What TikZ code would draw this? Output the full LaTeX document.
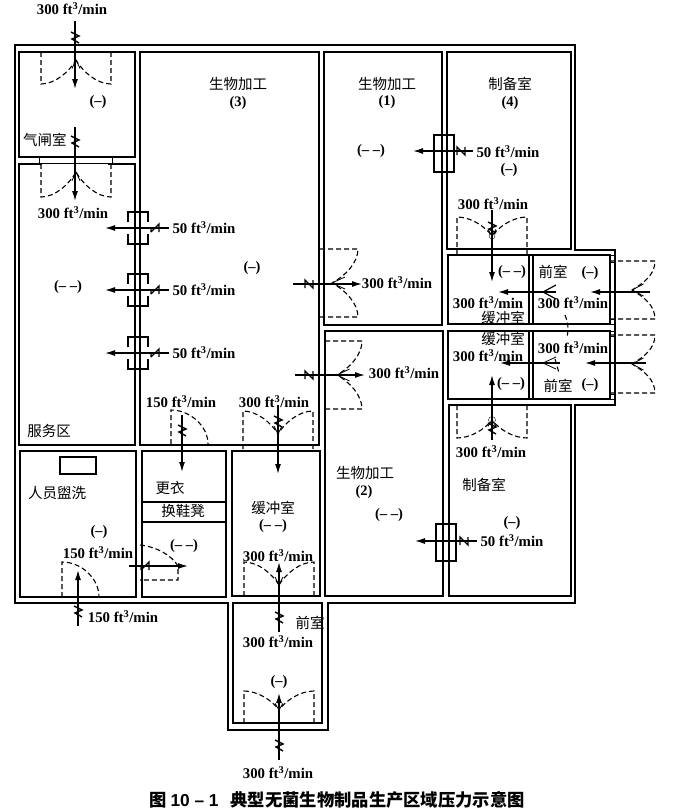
\documentclass[tikz,border=0pt]{standalone}
\usepackage{fontspec}
\setmainfont{Liberation Serif}
\newfontfamily\cjk{Noto Sans CJK SC}
\newfontfamily\titlelatin{Liberation Sans}
\usetikzlibrary{arrows.meta}
\newcommand{\flowrate}[1]{#1 ft\textsuperscript{3}/min}
% double door, vertical axis: axis x, wall y, leaf end y, tip y
\newcommand{\doorv}[4]{
	\draw[door] ({#1-35},#2) -- ({#1-35},#3) .. controls ({#1-21},#3) and ({#1-7},{(#3+#4)/2}) .. (#1,#4);
	\draw[door] ({#1+35},#2) -- ({#1+35},#3) .. controls ({#1+21},#3) and ({#1+7},{(#3+#4)/2}) .. (#1,#4);
	\draw[line width=0.8pt] ({#1-4},{#4+(#3-#4)*0.35}) -- (#1,#4) -- ({#1+4},{#4+(#3-#4)*0.35});
}
% double door, horizontal axis: axis y, half width, wall x, leaf end x, tip x
\newcommand{\doorh}[5]{
	\draw[door] (#3,{#1-#2}) -- (#4,{#1-#2}) .. controls (#4,{#1-#2+14}) and ({(#4+#5)/2},{#1-7}) .. (#5,#1);
	\draw[door] (#3,{#1+#2}) -- (#4,{#1+#2}) .. controls (#4,{#1+#2-14}) and ({(#4+#5)/2},{#1+7}) .. (#5,#1);
	\draw[line width=0.8pt] ({#5+(#4-#5)*0.5},{#1-6}) -- (#5,#1) -- ({#5+(#4-#5)*0.5},{#1+6});
}
\newcommand{\zmark}[2]{\draw[zig] (#1,#2) ++(-4,-5) -- ++(8,4) -- ++(-7,3) -- ++(7,4);}
\newcommand{\nmark}[2]{\draw[zig] (#1,#2) ++(-4,4) -- ++(0,-8) -- ++(8,8) -- ++(0,-8);}
\newcommand{\nmarkb}[2]{\draw[zig] (#1,#2) ++(-4,4) -- ++(0,-4) -- ++(8,0) ++(-8,4) -- ++(8,-8) -- ++(0,8);}
\newcommand{\passbox}[2]{
	\draw[line width=1.5pt] ({#1-10},{#2-6}) -- ({#1-10},{#2-16}) -- ({#1+10},{#2-16}) -- ({#1+10},{#2-6});
	\draw[line width=1.5pt] ({#1-10},{#2+6}) -- ({#1-10},{#2+16}) -- ({#1+10},{#2+16}) -- ({#1+10},{#2+6});
}
\begin{document}
\begin{tikzpicture}[
		x=1pt,y=-1pt,
		wall/.style={line width=2pt},
		door/.style={line width=1.1pt,dash pattern=on 5pt off 3pt},
		flow/.style={line width=1.3pt,-{Latex[length=10pt,width=6pt]}},
		zig/.style={line width=1.4pt},
		rate/.style={inner sep=0pt,font=\bfseries\fontsize{14.8}{16}\selectfont},
		room/.style={inner sep=0pt,font=\cjk\fontsize{14.5}{16}\selectfont},
		sign/.style={inner sep=0pt,font=\bfseries\fontsize{14.5}{16}\selectfont}
		]
		\useasboundingbox (0,0) rectangle (674,809);
		%Draw outer wall
		\draw[wall] (15,45) -- (575,45) -- (575,250) -- (615,250) -- (615,405) -- (575,405) -- (575,603)
		-- (328,603) -- (328,730) -- (228,730) -- (228,603) -- (15,603) -- cycle;
		%Draw rooms
		\draw[wall] (19,52) rectangle (135,157);
		\draw[wall] (19,164) rectangle (135,445);
		\draw[wall] (140,52) rectangle (319,445);
		\draw[wall] (324,52) rectangle (442,325);
		\draw[wall] (325,331) rectangle (443,596);
		\draw[wall] (447,52) rectangle (571,249);
		\draw[wall] (448,255) rectangle (610,324);
		\draw[wall] (448,331) rectangle (610,399);
		\draw[wall] (449,405) rectangle (571,596);
		\draw[wall] (20,451) rectangle (136,597);
		\draw[wall] (142,451) rectangle (226,597);
		\draw[wall] (232,451) rectangle (320,596);
		\draw[wall] (233,603) rectangle (322,723);
		\draw[wall] (60,457) rectangle (96,474);
		%Partitions
		\draw[line width=1.2pt] (529,255) -- (529,324) (533,255) -- (533,324);
		\draw[line width=1.2pt] (529,331) -- (529,399) (533,331) -- (533,399);
		\draw[wall] (142,502) -- (226,502) (142,522) -- (226,522);
		%Door openings in walls
		\draw[wall,white] (42,164) -- (108,164);
		\draw[line width=1pt] (39,157) -- (39,164) (112,157) -- (112,164) (39,163) -- (112,163);
		\draw[line width=1pt] (610,255) rectangle (615,262) (610,319) rectangle (615,324);
		\draw[line width=1pt] (610,331) rectangle (615,336) (610,394) rectangle (615,399);
		%Draw doors
		\doorv{76}{52}{84}{60}
		\doorv{76}{164}{197}{172}
		\doorv{492}{255}{217}{236}
		\doorv{492}{405}{438}{420}
		\doorv{278}{449}{411}{434}
		\doorv{279}{596}{562}{585}
		\doorv{279}{723}{691}{710}
		\doorh{283}{34}{320}{358}{332}
		\doorh{375}{34}{325}{362}{337}
		\doorh{290}{29}{610}{655}{632}
		\doorh{364}{29}{610}{655}{632}
		\draw[door] (171,444) -- (171,410) .. controls (190,410) and (208,426) .. (208,444);
		\draw[door] (62,597) -- (62,562) .. controls (81,562) and (99,578) .. (99,597);
		\draw[door] (140,545) .. controls (158,547) and (172,556) .. (178,566) -- (178,580) -- (140,580);
		\draw[door] (565,315) .. controls (568,322) and (569,330) .. (567,337);
		\draw[door] (555,359) -- (559,373);
		\draw[line width=1.2pt] (556,285) -- (543,292) -- (556,299);
		\draw[line width=0.8pt] (556,357) -- (543,363) -- (556,369);
		%Draw transfer hatches
		\passbox{138}{228}
		\passbox{138}{290}
		\passbox{138}{353}
		\draw[line width=1.1pt] (434,135) rectangle (454,172);
		\draw[line width=1.1pt] (436,524) rectangle (456,561);
		%Draw air flows
		\draw[flow] (75,21) -- (75,89);
		\zmark{75}{37}
		\draw[flow] (75,127) -- (75,201);
		\zmark{75}{141}
		\draw[flow] (169,228) -- (105,228);
		\nmarkb{155}{228}
		\draw[flow] (169,290) -- (105,290);
		\nmarkb{155}{290}
		\draw[flow] (169,353) -- (105,353);
		\nmarkb{155}{353}
		\draw[flow] (473,151) -- (413,151);
		\nmark{461}{151}
		\draw[flow] (477,541) -- (415,541);
		\nmark{464}{541}
		\draw[flow] (293,284) -- (362,284);
		\nmark{309}{284}
		\draw[flow] (295,375) -- (365,375);
		\nmark{309}{375}
		\draw[flow] (492,210) -- (492,282);
		\zmark{492}{227}
		\draw (492,236) circle (3pt);
		\draw[flow] (492,440) -- (492,375);
		\zmark{492}{428}
		\draw (492,420) circle (3.5pt);
		\draw[flow] (182,415) -- (182,472);
		\zmark{182}{430}
		\draw[flow] (278,405) -- (278,474);
		\zmark{278}{421}
		\draw[flow] (78,626) -- (78,570);
		\zmark{78}{611}
		\draw[flow] (129,566) -- (188,566);
		\nmarkb{145}{566}
		\draw[flow] (279,632) -- (279,562);
		\zmark{279}{617}
		\draw[flow] (279,760) -- (279,693);
		\zmark{279}{745}
		\draw[flow] (650,292) -- (590,292);
		\draw[flow] (556,292) -- (498,292);
		\draw[flow] (646,363) -- (585,363);
		\draw[flow] (560,363) -- (500,363);
		%Flow labels
		\path (72,9) node[rate] (ratetop) {\flowrate{300}}
		(73,213) node[rate] (rateair) {\flowrate{300}}
		(204,228) node[rate] (ratehatcha) {\flowrate{50}}
		(204,290) node[rate] (ratehatchb) {\flowrate{50}}
		(204,353) node[rate] (ratehatchc) {\flowrate{50}}
		(508,152) node[rate] (ratehatchd) {\flowrate{50}}
		(512,541) node[rate] (ratehatche) {\flowrate{50}}
		(397,283) node[rate] (ratebioa) {\flowrate{300}}
		(404,373) node[rate] (ratebiob) {\flowrate{300}}
		(493,204) node[rate] (rateprepa) {\flowrate{300}}
		(491,452) node[rate] (rateprepb) {\flowrate{300}}
		(488,303) node[rate] (ratebufa) {\flowrate{300}}
		(488,356) node[rate] (ratebufb) {\flowrate{300}}
		(573,303) node[rate] (ratefora) {\flowrate{300}}
		(573,348) node[rate] (rateforb) {\flowrate{300}}
		(181,402) node[rate] (ratechange) {\flowrate{150}}
		(274,402) node[rate] (ratebufc) {\flowrate{300}}
		(98,553) node[rate] (ratewash) {\flowrate{150}}
		(123,617) node[rate] (ratewashout) {\flowrate{150}}
		(278,556) node[rate] (ratebufd) {\flowrate{300}}
		(278,642) node[rate] (rateforc) {\flowrate{300}}
		(278,773) node[rate] (ratebottom) {\flowrate{300}};
		%Room labels
		\path (45,140) node[room] (airlock) {气闸室}
		(49,431) node[room] (service) {服务区}
		(238,84) node[room] (bioc) {生物加工}
		(387,84) node[room] (bioa) {生物加工}
		(510,84) node[room] (prepa) {制备室}
		(503,318) node[room] (bufa) {缓冲室}
		(503,339) node[room] (bufb) {缓冲室}
		(57,493) node[room] (wash) {人员盥洗}
		(170,488) node[room] (change) {更衣}
		(183,511) node[room] (bench) {换鞋凳}
		(273,508) node[room] (bufc) {缓冲室}
		(365,473) node[room] (biob) {生物加工}
		(484,485) node[room] (prepb) {制备室}
		(310,623) node[room] (forc) {前室}
		(553,272) node[room] (fora) {前室}
		(558,386) node[room] (forb) {前室};
		%Numbers and pressure signs
		\path (238,103) node[sign] (numc) {(3)}
		(387,102) node[sign] (numa) {(1)}
		(510,103) node[sign] (numd) {(4)}
		(364,492) node[sign] (numb) {(2)}
		(98,102) node[sign] (pair) {(–)}
		(68,287) node[sign] (pservice) {(– –)}
		(252,268) node[sign] (pbioc) {(–)}
		(371,151) node[sign] (pbioa) {(– –)}
		(509,170) node[sign] (pprepa) {(–)}
		(512,272) node[sign] (pbufa) {(– –)}
		(511,384) node[sign] (pbufb) {(– –)}
		(590,273) node[sign] (pfora) {(–)}
		(590,385) node[sign] (pforb) {(–)}
		(99,532) node[sign] (pwash) {(–)}
		(184,546) node[sign] (pchange) {(– –)}
		(273,526) node[sign] (pbufc) {(– –)}
		(389,515) node[sign] (pbiob) {(– –)}
		(512,523) node[sign] (pprepb) {(–)}
		(279,682) node[sign] (pforc) {(–)};
		%Caption
		\path (337,800) node[inner sep=0pt,font=\cjk\bfseries\fontsize{17.3}{18}\selectfont] (caption)
		{图 {\titlelatin 10 – 1}\hspace{12pt}典型无菌生物制品生产区域压力示意图};
	\end{tikzpicture}
\end{document}
